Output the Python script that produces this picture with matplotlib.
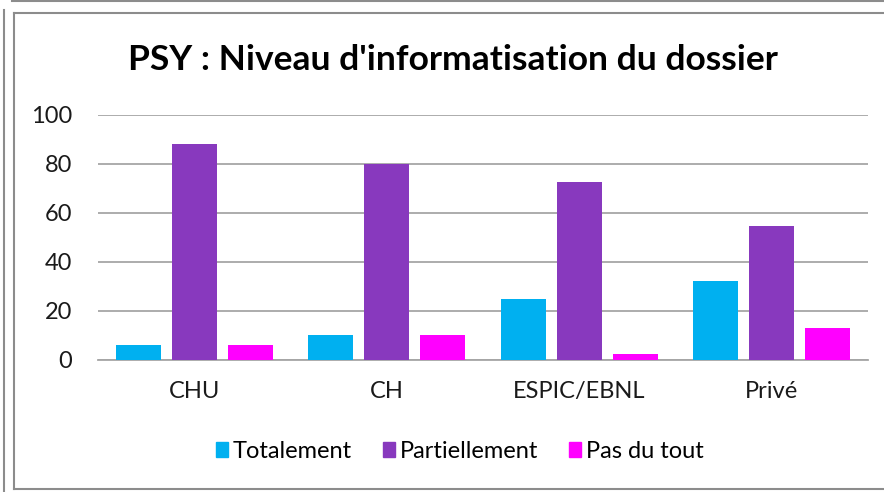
import matplotlib.pyplot as plt
from matplotlib.patches import Rectangle
from matplotlib.lines import Line2D
import numpy as np

categories = ["CHU", "CH", "ESPIC/EBNL", "Privé"]
totalement = [6, 10.2, 24.7, 32]
partiellement = [88.2, 79.8, 72.7, 54.4]
pas_du_tout = [6, 10.2, 2.2, 12.8]
series_names = ["Totalement", "Partiellement", "Pas du tout"]
colors = ["#00B0F0", "#8839BE", "#FF00FF"]

plt.rcParams['font.family'] = ['Lato', 'DejaVu Sans']

fig = plt.figure(figsize=(8.84, 4.92), dpi=100)
ax = fig.add_axes([98 / 884, 132.3 / 492, 770 / 884, 245 / 492])

x = np.arange(len(categories))
width = 0.234
step = 0.29
for i, (vals, name, col) in enumerate(zip([totalement, partiellement, pas_du_tout], series_names, colors)):
    ax.bar(x + (i - 1) * step, vals, width, color=col, label=name, zorder=3)

ax.set_xlim(-0.5, len(categories) - 0.5)
ax.set_ylim(0, 100)
ax.set_yticks(range(0, 101, 20))
ax.set_xticks(x)
ax.set_xticklabels(categories)
ax.tick_params(axis='both', length=0, labelsize=17, labelcolor='#1a1a1a')
ax.tick_params(axis='y', pad=18.5)
ax.tick_params(axis='x', pad=15)
ax.grid(axis='y', color='#A6A6A6', linewidth=1.3, zorder=0)
for s in ['top', 'right', 'left']:
    ax.spines[s].set_visible(False)
ax.spines['bottom'].set_color('#A6A6A6')
ax.spines['bottom'].set_linewidth(1.3)

fig.suptitle("PSY : Niveau d'informatisation du dossier", x=453 / 884, y=1 - 60 / 492,
             va='center', fontsize=25.5, fontweight='bold')

handles = [Rectangle((0, 0), 1, 1, color=c) for c in colors]
fig.legend(handles, series_names, loc='center', bbox_to_anchor=(460 / 884, 1 - 451 / 492),
           ncol=3, frameon=False, fontsize=17, handlelength=0.51, handleheight=0.6,
           handletextpad=0.22, columnspacing=1.3)

# chart frame borders
fig.add_artist(Line2D([4 / 884, 4 / 884], [0, 1 - 10 / 492], color='#8c8c8c', lw=1.5, transform=fig.transFigure))
fig.add_artist(Line2D([12 / 884, 1], [1 - 1 / 492, 1 - 1 / 492], color='#8c8c8c', lw=1.5, transform=fig.transFigure))
fig.add_artist(Line2D([14 / 884, 14 / 884], [3 / 492, 1 - 13 / 492], color='#8c8c8c', lw=1.5, transform=fig.transFigure))
fig.add_artist(Line2D([14 / 884, 1], [1 - 13 / 492, 1 - 13 / 492], color='#8c8c8c', lw=1.5, transform=fig.transFigure))
fig.add_artist(Line2D([14 / 884, 1], [3 / 492, 3 / 492], color='#8c8c8c', lw=1.5, transform=fig.transFigure))

fig.savefig("out.png", dpi=100)
